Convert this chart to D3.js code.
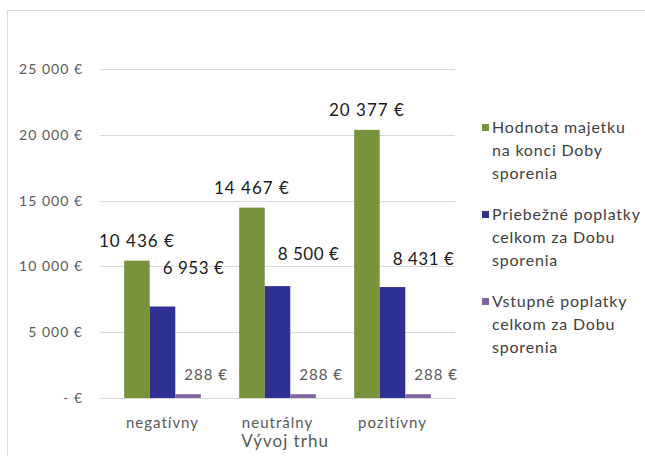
<!DOCTYPE html>
<html>
<head>
<meta charset="utf-8">
<script src="https://cdn.jsdelivr.net/npm/d3@7"></script>
<style>
  body { margin: 0; background: #fff; }
  text { font-family: Lato, "Open Sans", sans-serif; }
</style>
</head>
<body>
<div id="graph"></div>
<script>
// údaje z grafu
const kategorie = ["negatívny", "neutrálny", "pozitívny"];
const serie = ["Hodnota majetku na konci Doby sporenia",
               "Priebežné poplatky celkom za Dobu sporenia",
               "Vstupné poplatky celkom za Dobu sporenia"];
const hodnotaMajetku = [10436, 14467, 20377];
const priebezne = [6953, 8500, 8431];
const vstupne = [288, 288, 288];
const yTicks = [0, 5000, 10000, 15000, 20000, 25000];
const farby = ["#77933c", "#2e3192", "#8064a2"];

const width = 645, height = 456;
const svg = d3.select("#graph").append("svg")
    .attr("width", width)
    .attr("height", height);

// rámik grafu
svg.append("rect")
    .attr("x", 7.5).attr("y", 10.5)
    .attr("width", 700).attr("height", 500)
    .attr("fill", "none").attr("stroke", "#d9d9d9");

const x = d3.scaleBand().domain(kategorie).range([105, 450]);
const xs = d3.scaleBand().domain(d3.range(3)).range([0, x.bandwidth()]).paddingOuter(0.75).paddingInner(0);
const y = d3.scaleLinear().domain([0, 25000]).range([398, 69]);

const fmt = v => v === 0 ? "-  €" : d3.format(",")(v).replace(/,/g, " ") + " €";

// mriežka a os Y
svg.append("g").selectAll("line").data(yTicks).enter().append("line")
    .attr("x1", 100).attr("x2", 455)
    .attr("y1", d => Math.round(y(d)) + 0.5).attr("y2", d => Math.round(y(d)) + 0.5)
    .attr("stroke", "#d9d9d9");
svg.append("g").selectAll("text").data(yTicks).enter().append("text")
    .attr("x", 83).attr("y", d => y(d) + 5)
    .attr("text-anchor", "end")
    .attr("font-size", 14).attr("letter-spacing", 1).attr("fill", "#595959")
    .text(fmt);

const data = [hodnotaMajetku, priebezne, vstupne];

data.forEach((vals, s) => {
    svg.append("g").selectAll("rect").data(kategorie).enter().append("rect")
        .attr("x", (d, i) => x(d) + xs(s))
        .attr("width", xs.bandwidth())
        .attr("y", (d, i) => y(vals[i]))
        .attr("height", (d, i) => y(0) - y(vals[i]))
        .attr("fill", farby[s]);
});

// popisky hodnôt
svg.append("g").selectAll("text").data(kategorie).enter().append("text")
    .attr("x", d => x(d) + xs(0) + xs.bandwidth() / 2)
    .attr("y", (d, i) => y(hodnotaMajetku[i]) - 14)
    .attr("text-anchor", "middle").attr("font-size", 17).attr("letter-spacing", 1).attr("fill", "#1a1a1a")
    .text((d, i) => fmt(hodnotaMajetku[i]));
const posunModra = [-32, -26, -22];
svg.append("g").selectAll("text").data(kategorie).enter().append("text")
    .attr("x", d => x(d) + xs(1) + xs.bandwidth() / 2 + 31)
    .attr("y", (d, i) => y(priebezne[i]) + posunModra[i])
    .attr("text-anchor", "middle").attr("font-size", 17).attr("letter-spacing", 0.5).attr("fill", "#1a1a1a")
    .text((d, i) => fmt(priebezne[i]));
svg.append("g").selectAll("text").data(kategorie).enter().append("text")
    .attr("x", d => x(d) + xs(2) + xs.bandwidth() / 2 + 18)
    .attr("y", (d, i) => y(vstupne[i]) - 14)
    .attr("text-anchor", "middle").attr("font-size", 15).attr("letter-spacing", 1).attr("fill", "#595959")
    .text((d, i) => fmt(vstupne[i]));

// os X
svg.append("g").selectAll("text").data(kategorie).enter().append("text")
    .attr("x", d => x(d) + x.bandwidth() / 2)
    .attr("y", 428)
    .attr("text-anchor", "middle").attr("font-size", 15).attr("letter-spacing", 1).attr("fill", "#595959")
    .text(d => d);
svg.append("text")
    .attr("x", 285).attr("y", 447)
    .attr("text-anchor", "middle").attr("font-size", 17).attr("letter-spacing", 1).attr("fill", "#595959")
    .text("Vývoj trhu");

// legenda
const riadky = [["Hodnota majetku", "na konci Doby", "sporenia"],
                ["Priebežné poplatky", "celkom za Dobu", "sporenia"],
                ["Vstupné poplatky", "celkom za Dobu", "sporenia"]];
const leg = svg.append("g").selectAll("g").data(riadky).enter().append("g")
    .attr("transform", (d, i) => `translate(482, ${128 + i * 87})`);
leg.append("rect").attr("x", 0).attr("y", -4).attr("width", 7).attr("height", 7)
    .attr("fill", (d, i) => farby[i]);
leg.append("text").attr("font-size", 16).attr("letter-spacing", 0.8).attr("fill", "#404040")
    .selectAll("tspan").data(d => d).enter().append("tspan")
    .attr("x", 10).attr("y", (d, j) => j * 23 + 5)
    .text(d => d);
</script>
</body>
</html>
